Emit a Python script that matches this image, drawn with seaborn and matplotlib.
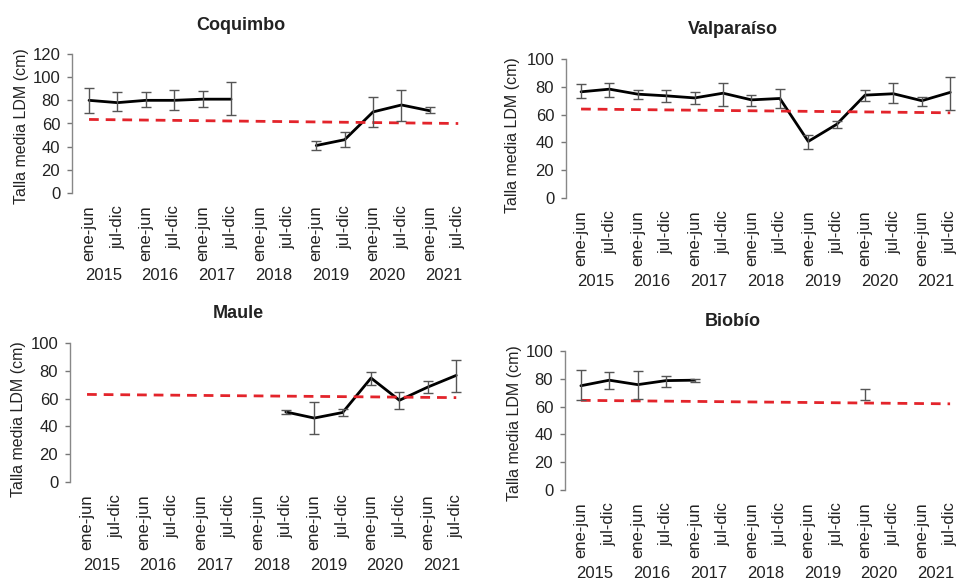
import numpy as np
import pandas as pd
import matplotlib
matplotlib.use("Agg")
import matplotlib.pyplot as plt
import seaborn as sns
from matplotlib import font_manager

sns.set_style("white")
names = {f.name for f in font_manager.fontManager.ttflist}
fam = [n for n in ["Liberation Sans Narrow", "Liberation Sans", "DejaVu Sans"] if n in names]
plt.rcParams["font.family"] = fam

periods = ["ene-jun", "jul-dic"] * 7
years = ["2015", "2016", "2017", "2018", "2019", "2020", "2021"]
nan = np.nan

# Coquimbo
coq_mean = [80, 78, 80, 80, 81, 81, nan, nan, 41, 46, 70, 76, 71, nan]
coq_lo   = [69, 71, 74, 72, 74, 67, nan, nan, 37, 40, 57, 62, 69, nan]
coq_hi   = [91, 87, 87, 89, 88, 96, nan, nan, 45, 53, 83, 89, 74, nan]
coq_ref  = [63.5, 60.0]
# Valparaíso
val_mean = [76.4, 78.3, 74.7, 73.5, 72, 75.4, 70.6, 71.6, 40.7, 53, 74, 75, 70, 76]
val_lo   = [72, 73, 71, 69, 67.5, 66.5, 66, 64.6, 35, 50.6, 70, 68.2, 66, 63.4]
val_hi   = [82, 83, 78, 78, 76, 83, 74, 78.5, 45.5, 55.7, 77.8, 82.4, 73, 87]
val_ref  = [64.0, 61.3]
# Maule
mau_mean = [nan, nan, nan, nan, nan, nan, nan, 50.4, 46, 50, 74.8, 58.8, 68.3, 76.7]
mau_lo   = [nan, nan, nan, nan, nan, nan, nan, 48.7, 34.3, 47.5, 70, 52.3, 64, 65]
mau_hi   = [nan, nan, nan, nan, nan, nan, nan, 52, 57.3, 52.5, 79, 64.7, 72.6, 87.5]
mau_ref  = [63.0, 60.7]
# Biobío
bio_mean = [75, 79, 75.8, 78.7, 79, nan, nan, nan, nan, nan, 68.5, nan, nan, nan]
bio_lo   = [65, 72.4, 65.5, 74.1, 78, nan, nan, nan, nan, nan, 65, nan, nan, nan]
bio_hi   = [86, 84.9, 85.8, 81.8, 79.8, nan, nan, nan, nan, nan, 72.4, nan, nan, nan]
bio_ref  = [64.5, 62.0]

W, H = 959, 581
fig = plt.figure(figsize=(W / 100, H / 100), dpi=100)

panels = [
    ("Coquimbo", coq_mean, coq_lo, coq_hi, coq_ref, (72, 54, 193), (-0.6, 13.5), 120, 0.4225,
     (22, 126)),
    ("Valparaíso", val_mean, val_lo, val_hi, val_ref, (566, 59, 198), (-0.53, 13.2), 100, 0.428,
     (513, 135)),
    ("Maule", mau_mean, mau_lo, mau_hi, mau_ref, (70, 343, 482), (-0.6, 13.5), 100, 0.421,
     (19, 419)),
    ("Biobío", bio_mean, bio_lo, bio_hi, bio_ref, (565, 351, 490), (-0.56, 13.2), 100, 0.43,
     (515, 423)),
]

for title, mean, lo, hi, ref, (left, top, bottom), xl, ymax, tx, (lx, ly) in panels:
    unit = 28.4
    width_px = (xl[1] - xl[0]) * unit
    ax = fig.add_axes([left / W, 1 - bottom / H, width_px / W, (bottom - top) / H])
    x = np.arange(len(periods))
    m = np.array(mean, dtype=float)
    seg = np.cumsum(np.isnan(m))
    df = pd.DataFrame({"x": x, "y": m, "seg": seg}).dropna()
    sns.lineplot(data=df, x="x", y="y", units="seg", estimator=None,
                 color="black", linewidth=2.0, ax=ax)
    lo_a = np.array(lo, dtype=float)
    hi_a = np.array(hi, dtype=float)
    ok = ~np.isnan(m)
    ax.errorbar(x[ok], m[ok], yerr=[m[ok] - lo_a[ok], hi_a[ok] - m[ok]], fmt="none",
                ecolor="#555555", elinewidth=1.0, capsize=3.5, capthick=1.0, zorder=3)
    rdf = pd.DataFrame({"x": [0, len(periods) - 1], "y": ref})
    sns.lineplot(data=rdf, x="x", y="y", color="#e3242b", linewidth=2.0, ax=ax,
                 linestyle=(0, (3.5, 2.5)), zorder=2)
    ax.set_xlim(*xl)
    ax.set_ylim(0, ymax)
    ax.set_yticks(np.arange(0, ymax + 1, 20))
    ax.set_xticks(x)
    ax.set_xticklabels(periods, rotation=90, fontsize=12, color="#222222")
    ax.tick_params(axis="x", length=0, pad=9)
    ax.tick_params(axis="y", length=3.5, width=1, color="#777777", labelsize=12,
                   labelcolor="#222222", pad=5, left=True)
    for s in ["top", "right", "bottom"]:
        ax.spines[s].set_visible(False)
    ax.spines["left"].set_color("#888888")
    ax.spines["left"].set_linewidth(1.0)
    ax.set_xlabel("")
    ax.set_ylabel("")
    fig.text(lx / W, 1 - ly / H, "Talla media LDM (cm)", rotation=90, ha="center",
             va="center", fontsize=11.5, color="#222222")
    hpx = bottom - top
    for i, yr in enumerate(years):
        ax.text(2 * i + 0.5, -83 / hpx, yr, transform=ax.get_xaxis_transform(),
                ha="center", va="center", fontsize=12, color="#222222")
    ax.text(tx, 1 + 29 / hpx, title, transform=ax.transAxes, ha="center", va="center",
            fontsize=13, fontweight="bold", color="#222222")
    ax.set_facecolor("white")

fig.savefig("out.png", dpi=100, facecolor="white")
